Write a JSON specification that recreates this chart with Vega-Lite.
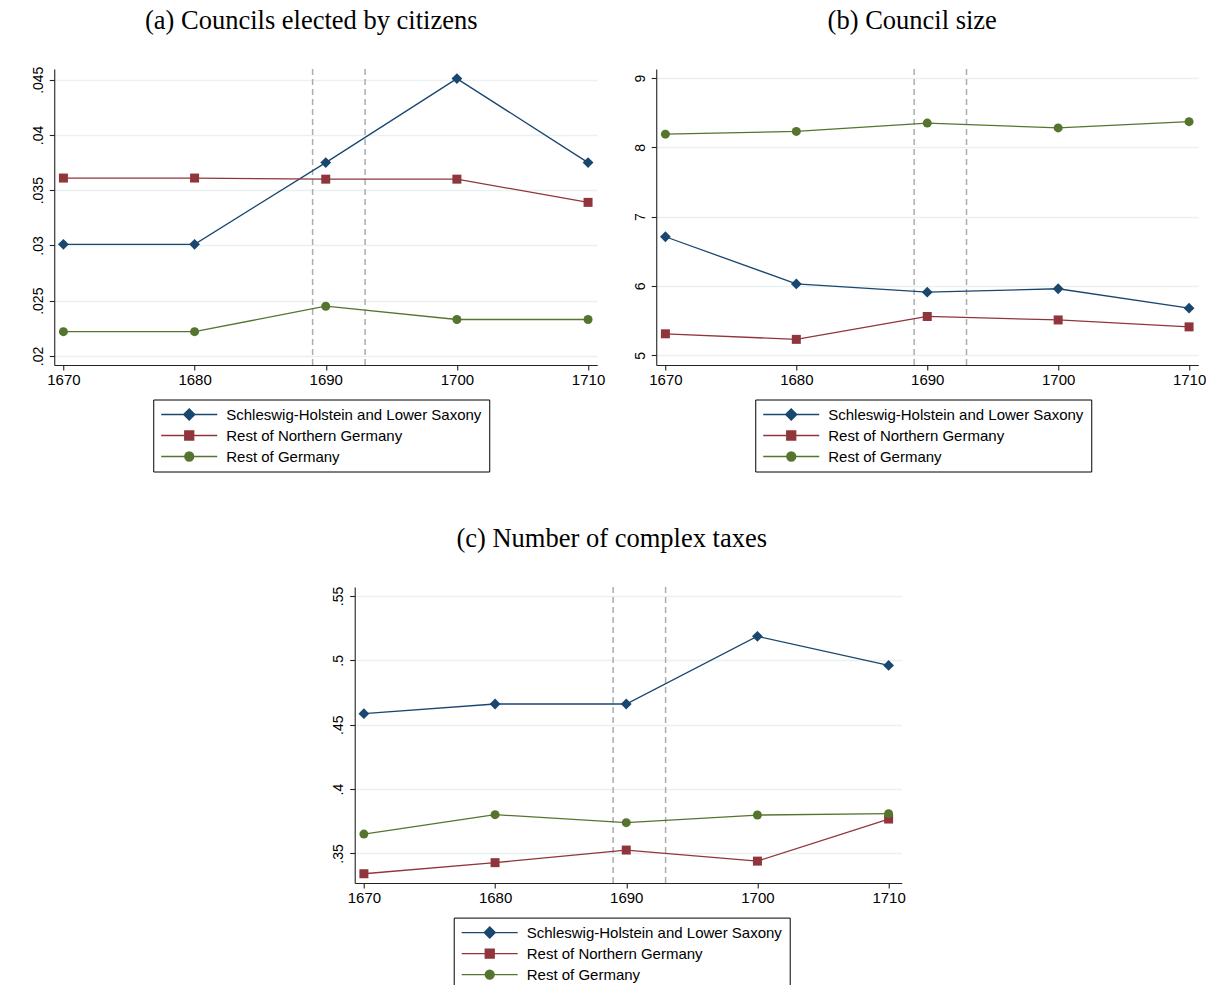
{
  "$schema": "https://vega.github.io/schema/vega-lite/v6.json",
  "background": "white",
  "padding": {"left": 7, "top": 7, "right": 0, "bottom": 0},
  "spacing": 53,
  "center": true,
  "resolve": {"scale": {"color": "independent", "shape": "independent", "fill": "independent", "stroke": "independent", "x": "independent", "y": "independent"}},
  "config": {
    "font": "Liberation Sans",
    "view": {"stroke": null},
    "title": {"font": "Liberation Serif", "fontSize": 26.5, "fontWeight": "normal", "color": "#000000", "anchor": "middle", "baseline": "alphabetic", "frame": "group"},
    "axis": {"labelFont": "Liberation Sans", "labelColor": "#000000", "domainColor": "#222222", "tickColor": "#222222", "domainWidth": 1.1, "tickWidth": 1.1, "tickSize": 5, "labelOverlap": false, "labelFlush": false, "title": null},
    "axisX": {"labelFontSize": 15, "labelPadding": 2, "grid": false},
    "axisY": {"labelFontSize": 14, "labelAngle": -90, "labelAlign": "center", "labelBaseline": "bottom", "labelPadding": 4, "grid": true, "gridColor": "#ebf1f2", "gridWidth": 1.6, "minExtent": 31, "maxExtent": 31},
    "legend": {"strokeColor": "#000000", "strokeWidth": 1, "padding": 7, "labelFont": "Liberation Sans", "labelFontSize": 15, "labelColor": "#000000", "labelLimit": 0, "symbolSize": 3136, "symbolStrokeWidth": 1.3, "labelOffset": 8, "rowPadding": 5, "clipHeight": 16, "orient": "none"}
  },
  "datasets": {
    "breaks": [{"year": 1689}, {"year": 1693}],
    "councils": [
      {"year": 1670, "region": "Schleswig-Holstein and Lower Saxony", "value": 0.0301},
      {"year": 1680, "region": "Schleswig-Holstein and Lower Saxony", "value": 0.0301},
      {"year": 1690, "region": "Schleswig-Holstein and Lower Saxony", "value": 0.0375},
      {"year": 1700, "region": "Schleswig-Holstein and Lower Saxony", "value": 0.0451},
      {"year": 1710, "region": "Schleswig-Holstein and Lower Saxony", "value": 0.0375},
      {"year": 1670, "region": "Rest of Northern Germany", "value": 0.0361},
      {"year": 1680, "region": "Rest of Northern Germany", "value": 0.0361},
      {"year": 1690, "region": "Rest of Northern Germany", "value": 0.0360},
      {"year": 1700, "region": "Rest of Northern Germany", "value": 0.0360},
      {"year": 1710, "region": "Rest of Northern Germany", "value": 0.0339},
      {"year": 1670, "region": "Rest of Germany", "value": 0.0222},
      {"year": 1680, "region": "Rest of Germany", "value": 0.0222},
      {"year": 1690, "region": "Rest of Germany", "value": 0.0245},
      {"year": 1700, "region": "Rest of Germany", "value": 0.0233},
      {"year": 1710, "region": "Rest of Germany", "value": 0.0233}
    ],
    "size": [
      {"year": 1670, "region": "Schleswig-Holstein and Lower Saxony", "value": 6.71},
      {"year": 1680, "region": "Schleswig-Holstein and Lower Saxony", "value": 6.03},
      {"year": 1690, "region": "Schleswig-Holstein and Lower Saxony", "value": 5.91},
      {"year": 1700, "region": "Schleswig-Holstein and Lower Saxony", "value": 5.96},
      {"year": 1710, "region": "Schleswig-Holstein and Lower Saxony", "value": 5.68},
      {"year": 1670, "region": "Rest of Northern Germany", "value": 5.31},
      {"year": 1680, "region": "Rest of Northern Germany", "value": 5.23},
      {"year": 1690, "region": "Rest of Northern Germany", "value": 5.56},
      {"year": 1700, "region": "Rest of Northern Germany", "value": 5.51},
      {"year": 1710, "region": "Rest of Northern Germany", "value": 5.41},
      {"year": 1670, "region": "Rest of Germany", "value": 8.19},
      {"year": 1680, "region": "Rest of Germany", "value": 8.23},
      {"year": 1690, "region": "Rest of Germany", "value": 8.35},
      {"year": 1700, "region": "Rest of Germany", "value": 8.28},
      {"year": 1710, "region": "Rest of Germany", "value": 8.37}
    ],
    "taxes": [
      {"year": 1670, "region": "Schleswig-Holstein and Lower Saxony", "value": 0.4586},
      {"year": 1680, "region": "Schleswig-Holstein and Lower Saxony", "value": 0.4661},
      {"year": 1690, "region": "Schleswig-Holstein and Lower Saxony", "value": 0.4661},
      {"year": 1700, "region": "Schleswig-Holstein and Lower Saxony", "value": 0.5187},
      {"year": 1710, "region": "Schleswig-Holstein and Lower Saxony", "value": 0.4961},
      {"year": 1670, "region": "Rest of Northern Germany", "value": 0.3342},
      {"year": 1680, "region": "Rest of Northern Germany", "value": 0.3428},
      {"year": 1690, "region": "Rest of Northern Germany", "value": 0.3526},
      {"year": 1700, "region": "Rest of Northern Germany", "value": 0.3440},
      {"year": 1710, "region": "Rest of Northern Germany", "value": 0.3767},
      {"year": 1670, "region": "Rest of Germany", "value": 0.3650},
      {"year": 1680, "region": "Rest of Germany", "value": 0.3801},
      {"year": 1690, "region": "Rest of Germany", "value": 0.3739},
      {"year": 1700, "region": "Rest of Germany", "value": 0.3798},
      {"year": 1710, "region": "Rest of Germany", "value": 0.3809}
    ]
  },
  "vconcat": [
    {
      "hconcat": [
        {
          "title": {"text": "(a) Councils elected by citizens", "dx": -14.5, "offset": 32},
          "width": 543,
          "height": 296,
          "encoding": {
            "x": {"field": "year", "type": "quantitative", "scale": {"domain": [1669.3, 1710.7], "nice": false, "zero": false}, "axis": {"values": [1670, 1680, 1690, 1700, 1710], "format": "d", "title": null}}
          },
          "layer": [
            {"data": {"name": "breaks"}, "mark": {"type": "rule", "color": "#adadad", "strokeWidth": 1.5, "strokeDash": [6, 4]}, "encoding": {}},
            {
              "data": {"name": "councils"},
              "mark": {"type": "line", "strokeWidth": 1.3},
              "encoding": {
                "y": {"field": "value", "type": "quantitative", "scale": {"domain": [0.01918, 0.04597], "nice": false, "zero": false}, "axis": {"values": [0.02, 0.025, 0.03, 0.035, 0.04, 0.045], "title": null, "minExtent": 47, "maxExtent": 47, "labelExpr": "replace(toString(datum.value), '0.', '.')"}},
                "color": {"field": "region", "type": "nominal", "scale": {"domain": ["Schleswig-Holstein and Lower Saxony", "Rest of Northern Germany", "Rest of Germany"], "range": ["#1a476f", "#90353b", "#55752f"]}, "legend": null}
              }
            },
            {
              "data": {"name": "councils"},
              "mark": {"type": "point", "filled": true, "opacity": 1, "size": 81},
              "encoding": {
                "y": {"field": "value", "type": "quantitative"},
                "color": {"field": "region", "type": "nominal", "legend": null},
                "shape": {"field": "region", "type": "nominal", "scale": {"domain": ["Schleswig-Holstein and Lower Saxony", "Rest of Northern Germany", "Rest of Germany"], "range": ["M-1.2,0L0,-1.2L1.2,0L0,1.2Z", "M-1,-1H1V1H-1Z", "circle"]}, "legend": null}
              }
            },
            {
              "data": {"name": "councils"},
              "transform": [{"filter": "false"}],
              "mark": {"type": "point", "filled": true, "opacity": 1, "strokeWidth": 1.3},
              "encoding": {
                "fill": {"field": "region", "type": "nominal", "scale": {"domain": ["Schleswig-Holstein and Lower Saxony", "Rest of Northern Germany", "Rest of Germany"], "range": ["#1a476f", "#90353b", "#55752f"]}, "legend": {"title": null, "orient": "none", "legendX": 99, "legendY": 330.5, "labelExpr": "datum.label + '\u00a0\u00a0'"}},
                "stroke": {"field": "region", "type": "nominal", "scale": {"domain": ["Schleswig-Holstein and Lower Saxony", "Rest of Northern Germany", "Rest of Germany"], "range": ["#1a476f", "#90353b", "#55752f"]}, "legend": {"title": null, "orient": "none", "legendX": 99, "legendY": 330.5, "labelExpr": "datum.label + '\u00a0\u00a0'"}},
                "shape": {"field": "region", "type": "nominal", "scale": {"domain": ["Schleswig-Holstein and Lower Saxony", "Rest of Northern Germany", "Rest of Germany"], "range": ["M-1,0H1M-0.2,0L0,-0.2L0.2,0L0,0.2Z", "M-1,0H1M-0.16,-0.16H0.16V0.16H-0.16Z", "M-1,0H1M-0.16,0A0.16,0.16,0,1,0,0.16,0A0.16,0.16,0,1,0,-0.16,0Z"]}, "legend": {"title": null, "orient": "none", "legendX": 99, "legendY": 330.5, "labelExpr": "datum.label + '\u00a0\u00a0'"}}
              }
            }
          ],
          "resolve": {"scale": {"shape": "independent", "fill": "independent", "stroke": "independent"}}
        },
        {
          "title": {"text": "(b) Council size", "dx": -15, "offset": 34},
          "width": 542,
          "height": 296,
          "encoding": {
            "x": {"field": "year", "type": "quantitative", "scale": {"domain": [1669.3, 1710.7], "nice": false, "zero": false}, "axis": {"values": [1670, 1680, 1690, 1700, 1710], "format": "d", "title": null}}
          },
          "layer": [
            {"data": {"name": "breaks"}, "mark": {"type": "rule", "color": "#adadad", "strokeWidth": 1.5, "strokeDash": [6, 4]}, "encoding": {}},
            {
              "data": {"name": "size"},
              "mark": {"type": "line", "strokeWidth": 1.3},
              "encoding": {
                "y": {"field": "value", "type": "quantitative", "scale": {"domain": [4.86, 9.13], "nice": false, "zero": false}, "axis": {"values": [5, 6, 7, 8, 9], "format": "d", "title": null}},
                "color": {"field": "region", "type": "nominal", "scale": {"domain": ["Schleswig-Holstein and Lower Saxony", "Rest of Northern Germany", "Rest of Germany"], "range": ["#1a476f", "#90353b", "#55752f"]}, "legend": null}
              }
            },
            {
              "data": {"name": "size"},
              "mark": {"type": "point", "filled": true, "opacity": 1, "size": 81},
              "encoding": {
                "y": {"field": "value", "type": "quantitative"},
                "color": {"field": "region", "type": "nominal", "legend": null},
                "shape": {"field": "region", "type": "nominal", "scale": {"domain": ["Schleswig-Holstein and Lower Saxony", "Rest of Northern Germany", "Rest of Germany"], "range": ["M-1.2,0L0,-1.2L1.2,0L0,1.2Z", "M-1,-1H1V1H-1Z", "circle"]}, "legend": null}
              }
            },
            {
              "data": {"name": "size"},
              "transform": [{"filter": "false"}],
              "mark": {"type": "point", "filled": true, "opacity": 1, "strokeWidth": 1.3},
              "encoding": {
                "fill": {"field": "region", "type": "nominal", "scale": {"domain": ["Schleswig-Holstein and Lower Saxony", "Rest of Northern Germany", "Rest of Germany"], "range": ["#1a476f", "#90353b", "#55752f"]}, "legend": {"title": null, "orient": "none", "legendX": 99, "legendY": 330.5, "labelExpr": "datum.label + '\u00a0\u00a0'"}},
                "stroke": {"field": "region", "type": "nominal", "scale": {"domain": ["Schleswig-Holstein and Lower Saxony", "Rest of Northern Germany", "Rest of Germany"], "range": ["#1a476f", "#90353b", "#55752f"]}, "legend": {"title": null, "orient": "none", "legendX": 99, "legendY": 330.5, "labelExpr": "datum.label + '\u00a0\u00a0'"}},
                "shape": {"field": "region", "type": "nominal", "scale": {"domain": ["Schleswig-Holstein and Lower Saxony", "Rest of Northern Germany", "Rest of Germany"], "range": ["M-1,0H1M-0.2,0L0,-0.2L0.2,0L0,0.2Z", "M-1,0H1M-0.16,-0.16H0.16V0.16H-0.16Z", "M-1,0H1M-0.16,0A0.16,0.16,0,1,0,0.16,0A0.16,0.16,0,1,0,-0.16,0Z"]}, "legend": {"title": null, "orient": "none", "legendX": 99, "legendY": 330.5, "labelExpr": "datum.label + '\u00a0\u00a0'"}}
              }
            }
          ],
          "resolve": {"scale": {"shape": "independent", "fill": "independent", "stroke": "independent"}}
        }
      ],
      "spacing": 59,
      "bounds": "flush",
      "resolve": {"scale": {"color": "independent", "shape": "independent", "fill": "independent", "stroke": "independent", "x": "independent", "y": "independent"}}
    },
    {
      "title": {"text": "(c) Number of complex taxes", "dx": -16.5, "offset": 34},
      "width": 547,
      "height": 296,
      "encoding": {
        "x": {"field": "year", "type": "quantitative", "scale": {"domain": [1669.3, 1711.0], "nice": false, "zero": false}, "axis": {"values": [1670, 1680, 1690, 1700, 1710], "format": "d", "title": null}}
      },
      "layer": [
        {"data": {"name": "breaks"}, "mark": {"type": "rule", "color": "#adadad", "strokeWidth": 1.5, "strokeDash": [6, 4]}, "encoding": {}},
        {
          "data": {"name": "taxes"},
          "mark": {"type": "line", "strokeWidth": 1.3},
          "encoding": {
            "y": {"field": "value", "type": "quantitative", "scale": {"domain": [0.327, 0.557], "nice": false, "zero": false}, "axis": {"values": [0.35, 0.4, 0.45, 0.5, 0.55], "title": null, "minExtent": 24, "maxExtent": 24, "labelExpr": "replace(toString(datum.value), '0.', '.')"}},
            "color": {"field": "region", "type": "nominal", "scale": {"domain": ["Schleswig-Holstein and Lower Saxony", "Rest of Northern Germany", "Rest of Germany"], "range": ["#1a476f", "#90353b", "#55752f"]}, "legend": null}
          }
        },
        {
          "data": {"name": "taxes"},
          "mark": {"type": "point", "filled": true, "opacity": 1, "size": 81},
          "encoding": {
            "y": {"field": "value", "type": "quantitative"},
            "color": {"field": "region", "type": "nominal", "legend": null},
            "shape": {"field": "region", "type": "nominal", "scale": {"domain": ["Schleswig-Holstein and Lower Saxony", "Rest of Northern Germany", "Rest of Germany"], "range": ["M-1.2,0L0,-1.2L1.2,0L0,1.2Z", "M-1,-1H1V1H-1Z", "circle"]}, "legend": null}
          }
        },
        {
          "data": {"name": "taxes"},
          "transform": [{"filter": "false"}],
          "mark": {"type": "point", "filled": true, "opacity": 1, "strokeWidth": 1.3},
          "encoding": {
            "fill": {"field": "region", "type": "nominal", "scale": {"domain": ["Schleswig-Holstein and Lower Saxony", "Rest of Northern Germany", "Rest of Germany"], "range": ["#1a476f", "#90353b", "#55752f"]}, "legend": {"title": null, "orient": "none", "legendX": 99, "legendY": 330.6, "labelExpr": "datum.label + '\u00a0\u00a0'"}},
            "stroke": {"field": "region", "type": "nominal", "scale": {"domain": ["Schleswig-Holstein and Lower Saxony", "Rest of Northern Germany", "Rest of Germany"], "range": ["#1a476f", "#90353b", "#55752f"]}, "legend": {"title": null, "orient": "none", "legendX": 99, "legendY": 330.6, "labelExpr": "datum.label + '\u00a0\u00a0'"}},
            "shape": {"field": "region", "type": "nominal", "scale": {"domain": ["Schleswig-Holstein and Lower Saxony", "Rest of Northern Germany", "Rest of Germany"], "range": ["M-1,0H1M-0.2,0L0,-0.2L0.2,0L0,0.2Z", "M-1,0H1M-0.16,-0.16H0.16V0.16H-0.16Z", "M-1,0H1M-0.16,0A0.16,0.16,0,1,0,0.16,0A0.16,0.16,0,1,0,-0.16,0Z"]}, "legend": {"title": null, "orient": "none", "legendX": 99, "legendY": 330.6, "labelExpr": "datum.label + '\u00a0\u00a0'"}}
          }
        }
      ],
      "resolve": {"scale": {"shape": "independent", "fill": "independent", "stroke": "independent"}}
    }
  ]
}
